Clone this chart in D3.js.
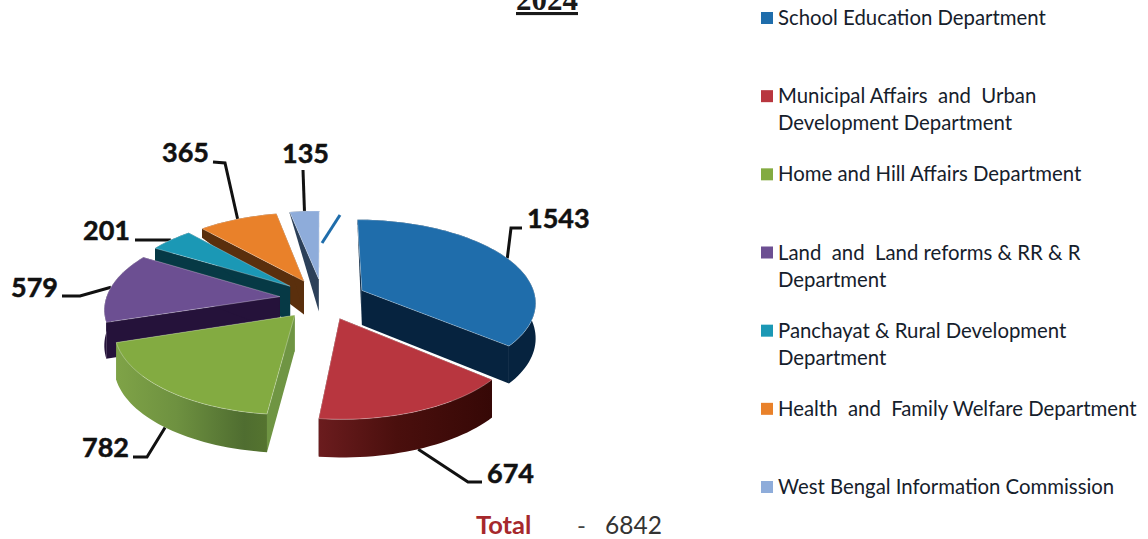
<!DOCTYPE html>
<html>
<head>
<meta charset="utf-8">
<script src="https://cdn.jsdelivr.net/npm/d3@7"></script>
<style>
    html, body { margin: 0; padding: 0; background: #fff; }
    svg { display: block; }
    text { font-family: Lato, "Noto Sans", sans-serif; white-space: pre; }
</style>
</head>
<body>
<div id="root"></div>
<script>
const width = 1148;
const height = 539;

// chart data
const departments = [
    ['School Education Department'],
    ['Municipal Affairs  and  Urban', 'Development Department'],
    ['Home and Hill Affairs Department'],
    ['Land  and  Land reforms & RR & R', 'Department'],
    ['Panchayat & Rural Development', 'Department'],
    ['Health  and  Family Welfare Department'],
    ['West Bengal Information Commission']
];
const values = [1543, 674, 782, 579, 201, 365, 135];
const title = '2024';
const totalLabel = 'Total';
const totalValue = '6842';

// styles
const topColors = ['#1f6dab', '#b8363f', '#83ab41', '#6c4f92', '#1b98b5', '#e9812a', '#8eacda'];
const wallColors = ['#06233f', 'url(#wall-red)', 'url(#wall-green)', '#25123a', '#063945', '#5a2f0d', '#2c4059'];
const sideColors = ['#06233f', '#3d0a08', '#6f9543', '#25123a', '#063945', '#5a2f0d', '#2c4059'];

// pie projection: disc coordinates -> screen, with a bit of perspective
const cx = 323;
const cy = 299;
const rx = 174;
const ry = 82;
const persp = 0.13;
const explode = 0.25;
// the walls get thin towards the back of the pie
const depth = d3.scaleLinear().domain([-1.25, -0.2, 0.5, 1.25]).range([1, 35, 35, 32]).clamp(true);
const project = (x, y, down) => {
    const d = 1 - persp * y;
    return [cx + rx * x / d, cy + ry * y / d + (down ? depth(y) / d : 0)];
};

// leader knees and label spots
const knees = [
    [[511, 228], [522, 228]],
    [[468, 482], [482, 482]],
    [[147, 457], [133, 457]],
    [[80, 296], [62, 296]],
    [[135, 240]],
    [[225, 163], [213, 162]],
    [[303, 170]]
];
const labelSpots = [[527, 228], [487, 483], [82, 457], [11, 297], [83, 240], [162, 162], [282, 163]];
const leaderFromBottom = [false, true, true, false, false, false, false];

const svg = d3.select('#root')
    .append('svg')
    .attr('width', width)
    .attr('height', height);

const defs = svg.append('defs');
const addGradient = (id, stops) => {
    defs.append('linearGradient')
        .attr('id', id)
        .selectAll('stop')
        .data(stops)
        .join('stop')
        .attr('offset', d => d[0])
        .attr('stop-color', d => d[1]);
};
addGradient('wall-red', [[0, '#6b1c1e'], [0.45, '#4a0f0d'], [1, '#360806']]);
addGradient('wall-green', [[0, '#7fa347'], [0.4, '#6e9140'], [0.85, '#4f6d30'], [1, '#55742f']]);

const pie = d3.pie().sort(null).startAngle(0).endAngle(2 * Math.PI);
const slices = pie(values).map((s, i) => {
    const mid = (s.startAngle + s.endAngle) / 2;
    const ox = explode * Math.sin(mid);
    const oy = -explode * Math.cos(mid);
    const steps = Math.max(4, Math.ceil((s.endAngle - s.startAngle) * 30));
    const rim = d3.range(steps + 1).map(k => {
        const a = s.startAngle + (s.endAngle - s.startAngle) * k / steps;
        return [ox + Math.sin(a), oy - Math.cos(a)];
    });
    return {i, mid, ox, oy, rim};
});

const line = d3.line();
const poly = pts => line(pts) + 'Z';

// leader lines go under the slices
slices.forEach(s => {
    const x = s.ox + Math.sin(s.mid);
    const y = s.oy - Math.cos(s.mid);
    const start = project(x, y, leaderFromBottom[s.i]);
    svg.append('path')
        .attr('d', line([start, ...knees[s.i]]))
        .attr('fill', 'none')
        .attr('stroke', '#111')
        .attr('stroke-width', 3);
});

// stray blue tick next to the pie
svg.append('path')
    .attr('d', line([[322, 243], [340, 215]]))
    .attr('fill', 'none')
    .attr('stroke', '#1f6dab')
    .attr('stroke-width', 3);

// back to front: blue first, then round the left side to red
const order = [0, 6, 5, 4, 3, 2, 1];
order.forEach(i => {
    const s = slices[i];
    const g = svg.append('g');
    const apexT = project(s.ox, s.oy, false);
    const apexB = project(s.ox, s.oy, true);
    const rimT = s.rim.map(p => project(p[0], p[1], false));
    const rimB = s.rim.map(p => project(p[0], p[1], true));
    const last = rimT.length - 1;

    // both cut faces
    g.append('path')
        .attr('d', poly([apexT, rimT[0], rimB[0], apexB]))
        .attr('fill', sideColors[i]);
    g.append('path')
        .attr('d', poly([apexT, rimT[last], rimB[last], apexB]))
        .attr('fill', sideColors[i]);
    // outer wall
    g.append('path')
        .attr('d', poly([...rimT, ...rimB.slice().reverse()]))
        .attr('fill', wallColors[i]);
    // top
    g.append('path')
        .attr('d', poly([apexT, ...rimT]))
        .attr('fill', topColors[i])
        .attr('stroke', '#fff')
        .attr('stroke-opacity', 0.5)
        .attr('stroke-width', 0.6);
});

// value labels
svg.selectAll('text.value')
    .data(values)
    .join('text')
    .attr('class', 'value')
    .attr('x', (d, i) => labelSpots[i][0])
    .attr('y', (d, i) => labelSpots[i][1])
    .attr('font-size', 27)
    .attr('font-weight', 700)
    .attr('fill', '#111')
    .attr('stroke', '#111')
    .attr('stroke-width', 0.5)
    .text(d => d);

// legend, evenly spaced rows
const legendY = d3.scaleLinear().domain([0, departments.length - 1]).range([18, 487]);
const legend = svg.selectAll('g.legend')
    .data(departments)
    .join('g')
    .attr('class', 'legend')
    .attr('transform', (d, i) => `translate(761,${legendY(i)})`);
legend.append('rect')
    .attr('x', 0)
    .attr('y', -6)
    .attr('width', 12)
    .attr('height', 12)
    .attr('fill', (d, i) => topColors[i]);
legend.selectAll('text')
    .data(d => d)
    .join('text')
    .attr('x', 17)
    .attr('y', (d, i) => 7 + i * 27)
    .attr('font-size', 20.35)
    .attr('fill', '#15202b')
    .text(d => d);

// title, cut off by the top of the page in the source too
svg.append('text')
    .attr('x', 547)
    .attr('y', 10)
    .attr('text-anchor', 'middle')
    .attr('font-size', 31)
    .attr('font-weight', 700)
    .attr('fill', '#1a1a1a')
    .style('font-family', '"Liberation Serif", serif')
    .style('text-decoration', 'underline')
    .text(title);

// total
svg.append('text')
    .attr('x', 476)
    .attr('y', 534)
    .attr('font-size', 25.5)
    .attr('font-weight', 700)
    .attr('fill', '#a6282c')
    .text(totalLabel);
svg.append('text')
    .attr('x', 577)
    .attr('y', 534)
    .attr('font-size', 24)
    .attr('fill', '#444')
    .text('-');
svg.append('text')
    .attr('x', 605)
    .attr('y', 534)
    .attr('font-size', 24.5)
    .attr('fill', '#333')
    .text(totalValue);
</script>
</body>
</html>
